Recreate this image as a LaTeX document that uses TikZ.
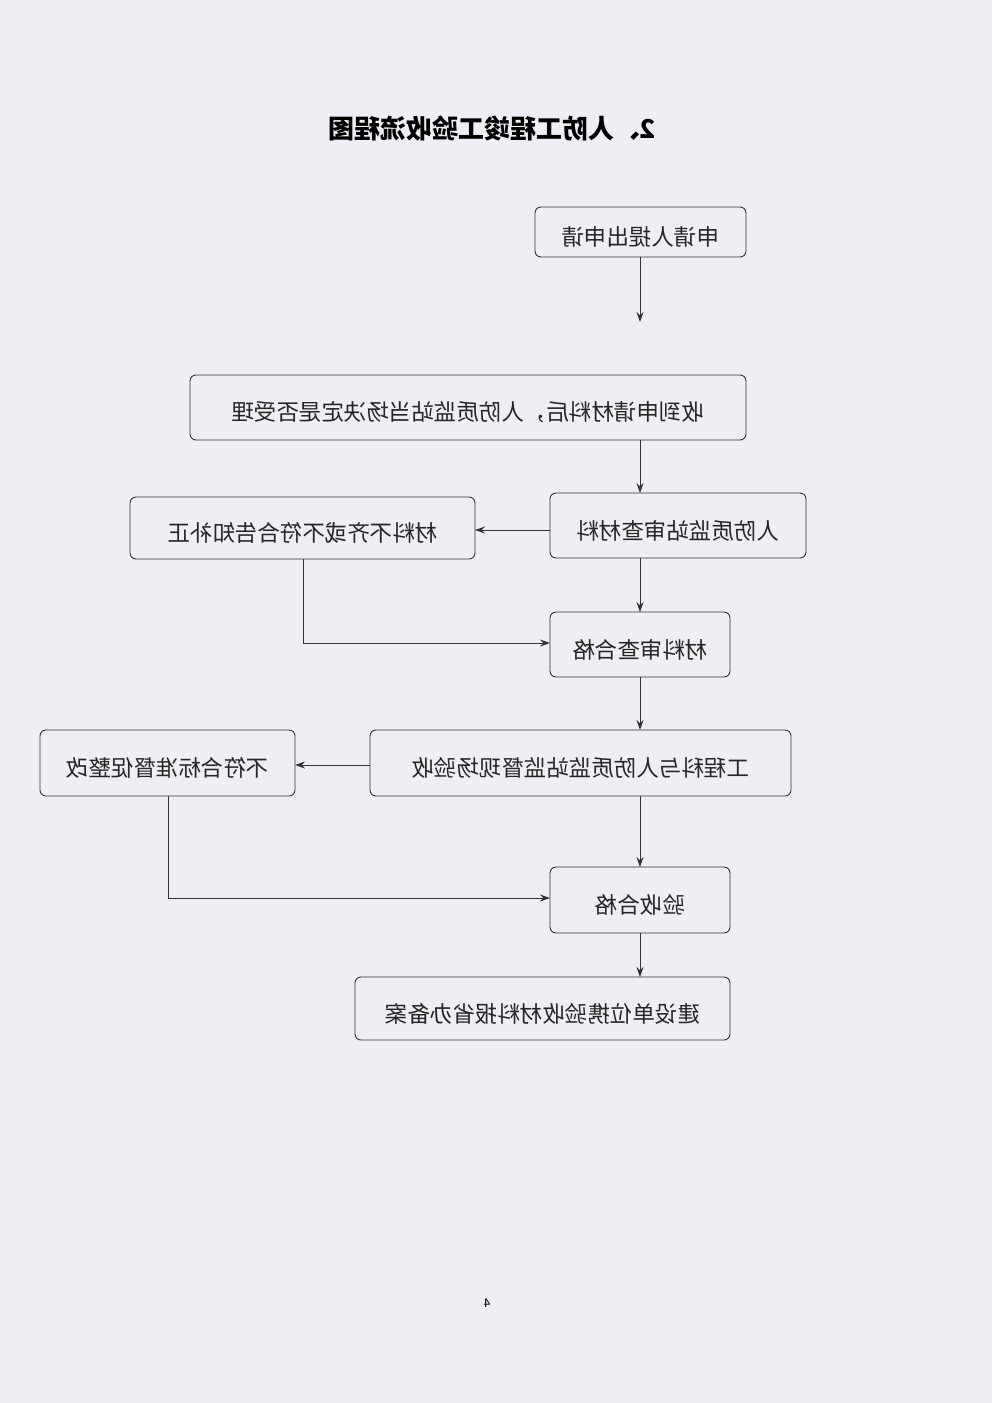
\documentclass[tikz,border=0pt]{standalone}
\usepackage{fontspec}
\usepackage{graphicx}
\newfontfamily\cjk{Noto Sans CJK SC}
\usetikzlibrary{arrows.meta}
\begin{document}
\begin{tikzpicture}[x=1pt,y=-1pt,
 bx/.style={draw=black!80,line width=0.9pt,rounded corners=6pt},
 tx/.style={font=\cjk\fontsize{22.5}{22}\selectfont,text=black!85},
 ar/.style={draw=black!80,line width=0.9pt,-{Stealth[length=10pt,width=7pt]}}]
\fill[fill={rgb,255:red,238;green,239;blue,244}] (0,0) rectangle (992,1403);
\useasboundingbox (0,0) rectangle (992,1403);
\node[font=\cjk\bfseries\fontsize{26}{26}\selectfont] (title) at (492,128) {\reflectbox{2、人防工程竣工验收流程图}};
\newcommand{\bxx}[6]{\draw[bx] (#2,#3) rectangle (#4,#5);
 \node[tx] (#1) at ({(#2+#4)/2},{(#3+#5)/2+5}) {\reflectbox{#6}};
 \coordinate (#1n) at ({(#2+#4)/2},#3);}
\bxx{a}{535}{207}{746}{257}{申请人提出申请}
\bxx{b}{190}{375}{746}{440}{收到申请材料后，人防质监站当场决定是否受理}
\bxx{c}{550}{493}{806}{558}{人防质监站审查材料}
\bxx{d}{130}{497}{475}{559}{材料不齐或不符合告知补正}
\bxx{e}{550}{612}{730}{677}{材料审查合格}
\bxx{f}{370}{730}{791}{796}{工程科与人防质监站监督现场验收}
\bxx{g}{40}{730}{295}{796}{不符合标准督促整改}
\bxx{h}{550}{867}{730}{933}{验收合格}
\bxx{i}{355}{977}{730}{1040}{建设单位携验收材料报省办备案}
\coordinate (a1) at (640,257); \coordinate (a2) at (640,322);
\draw[ar] (a1) -- (a2);
\draw[ar] (640,440) -- (640,493);
\draw[ar] (550,530) -- (475,530);
\draw[ar] (640,558) -- (640,612);
\draw[ar] (303,559) -- (303,643) -- (550,643);
\draw[ar] (640,677) -- (640,730);
\draw[ar] (370,765) -- (295,765);
\draw[ar] (640,796) -- (640,867);
\draw[ar] (168,796) -- (168,898) -- (550,898);
\draw[ar] (640,933) -- (640,977);
\node[font=\cjk\fontsize{12}{12}\selectfont] (pg) at (487,1303) {\reflectbox{4}};
\end{tikzpicture}
\end{document}
